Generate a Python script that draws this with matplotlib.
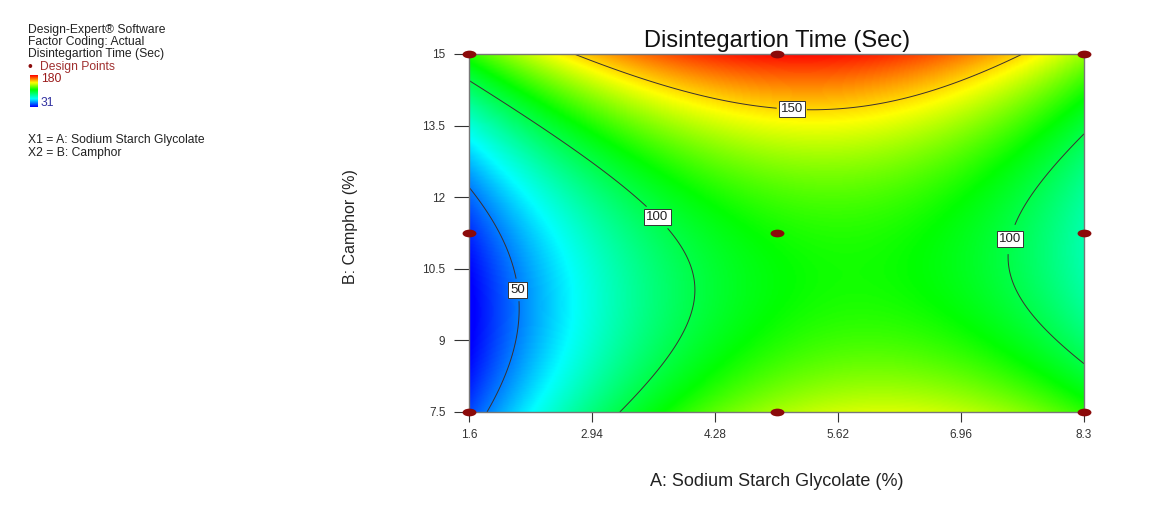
import numpy as np
import matplotlib
matplotlib.use('Agg')
import matplotlib.pyplot as plt
from matplotlib.colors import LinearSegmentedColormap, Normalize
from matplotlib.path import Path
from matplotlib.markers import MarkerStyle
from matplotlib.transforms import Affine2D

plt.rcParams['font.family'] = ['Liberation Sans', 'DejaVu Sans']

# design levels (actual units)
a_levels = [1.6, 4.95, 8.3]
b_levels = [7.5, 11.25, 15.0]
# responses, rows = camphor level, cols = SSG level
time_sec = [[41.5, 133.6, 117.3],
            [38.0, 113.3, 83.5],
            [116.8, 178.6, 132.0]]
x_ticks = [1.6, 2.94, 4.28, 5.62, 6.96, 8.3]
y_ticks = [7.5, 9, 10.5, 12, 13.5, 15]
contour_levels = [50, 100, 150]
resp_min, resp_max = 31, 180

W, H = 1156, 508
def fx(px):
    return px / W
def fy(py):
    return 1 - py / H

# quadratic model fit in coded units
A, B = np.meshgrid(a_levels, b_levels)
Y = np.array(time_sec, dtype=float)
def coded(x, y):
    return (x - 4.95) / 3.35, (y - 11.25) / 3.75
def terms(x, y):
    a, b = coded(x, y)
    return np.stack([np.ones_like(a), a, b, a * b, a ** 2, b ** 2], axis=-1)
coef, *_ = np.linalg.lstsq(terms(A.ravel(), B.ravel()), Y.ravel(), rcond=None)

gx = np.linspace(1.6, 8.3, 400)
gy = np.linspace(7.5, 15, 300)
GX, GY = np.meshgrid(gx, gy)
Z = terms(GX, GY) @ coef

# blue -> cyan -> green -> yellow -> red, stops at response values
stops = [31, 69, 112, 145, 180]
cmap = LinearSegmentedColormap.from_list(
    'de', [((v - resp_min) / (resp_max - resp_min), c) for v, c in
           zip(stops, ['#0000ff', '#00ffff', '#00ff00', '#ffff00', '#ff0000'])])
norm = Normalize(resp_min, resp_max)

fig = plt.figure(figsize=(W / 100, H / 100), dpi=100)
ax = fig.add_axes([fx(469), fy(412), fx(1084) - fx(469), fy(54) - fy(412)])
ax.imshow(Z, origin='lower', extent=[1.6, 8.3, 7.5, 15], aspect='auto',
          cmap=cmap, norm=norm, interpolation='bilinear')
cs = ax.contour(GX, GY, Z, levels=contour_levels, colors='#3a3030', linewidths=0.7)
lbl = ax.clabel(cs, fmt='%d', fontsize=9.5, inline=True, inline_spacing=4,
                manual=[(5.12, 13.97), (3.70, 11.67), (2.14, 10.06), (7.54, 11.10)])
for t in lbl:
    t.set_rotation(0)
    t.set_color('#222222')
    t.set_bbox(dict(facecolor='white', edgecolor='#333333', linewidth=0.7, pad=1.5))

# design points
ell = MarkerStyle(Path.unit_circle().transformed(Affine2D().scale(1.8, 1.0)))
ax.scatter(A.ravel(), B.ravel(), marker=ell, s=100, color='#8b0a0a', zorder=5,
           clip_on=False, linewidths=0)

ax.set_xlim(1.6, 8.3)
ax.set_ylim(7.5, 15)
ax.set_xticks(x_ticks)
ax.set_xticklabels(['1.6', '2.94', '4.28', '5.62', '6.96', '8.3'])
ax.set_yticks(y_ticks)
ax.set_yticklabels(['7.5', '9', '10.5', '12', '13.5', '15'])
ax.tick_params(axis='x', length=7, pad=5, labelsize=8.5, colors='#333333')
ax.tick_params(axis='y', length=11, pad=6, labelsize=8.5, colors='#333333')
for s in ax.spines.values():
    s.set_color('#777777')
    s.set_linewidth(1)

fig.text(fx(777), fy(47), 'Disintegartion Time (Sec)', fontsize=17,
         ha='center', va='baseline', color='#111111')
fig.text(fx(777), fy(482), 'A: Sodium Starch Glycolate (%)', fontsize=13,
         ha='center', va='center', color='#222222')
fig.text(fx(350), fy(227), 'B: Camphor (%)', fontsize=11.5, rotation=90,
         ha='center', va='center', color='#222222')

# info block on the left
info = ['Design-Expert\u00ae Software', 'Factor Coding: Actual', 'Disintegartion Time (Sec)']
for i, s in enumerate(info):
    fig.text(fx(28), fy(29.5 + 12.3 * i), s, fontsize=8.7, va='center', color='#222222')
fig.text(fx(28), fy(67), '\u2022', fontsize=10, va='center', color='#8b0a0a')
fig.text(fx(40), fy(66.7), 'Design Points', fontsize=8.7, va='center', color='#a03030')
cax = fig.add_axes([fx(30), fy(107), fx(8), fy(75) - fy(107)])
cax.imshow(np.linspace(1, 0, 100).reshape(-1, 1), aspect='auto', cmap=cmap)
cax.set_axis_off()
fig.text(fx(41), fy(78.7), str(resp_max), fontsize=8.7, va='center', color='#9b1c1c')
fig.text(fx(41), fy(102.7), str(resp_min), fontsize=8.7, va='center', color='#3030a0')
fig.text(fx(28), fy(140), 'X1 = A: Sodium Starch Glycolate', fontsize=8.7, va='center', color='#222222')
fig.text(fx(28), fy(153.3), 'X2 = B: Camphor', fontsize=8.7, va='center', color='#222222')

fig.savefig('out.png', dpi=100)
